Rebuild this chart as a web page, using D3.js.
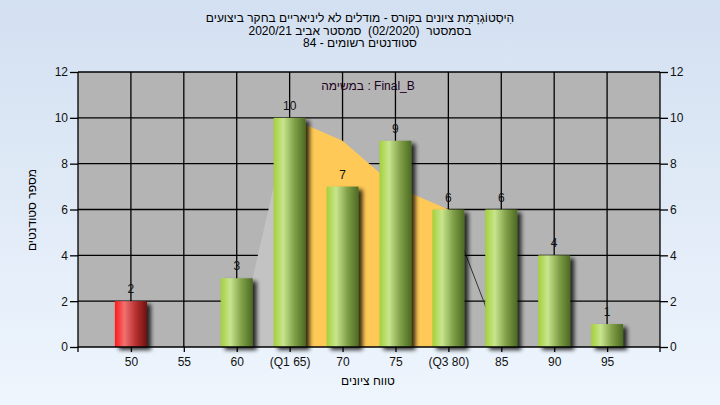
<!DOCTYPE html>
<html><head><meta charset="utf-8">
<script src="https://cdn.jsdelivr.net/npm/d3@7"></script>
<style>
html,body{margin:0;padding:0;}
svg{display:block;font-family:"Liberation Sans",Arial,sans-serif;}
text{white-space:pre;}
</style></head>
<body>
<svg id="c" width="720" height="405"></svg>
<script>
const categories = ["50","55","60","(Q1 65)","70","75","(Q3 80)","85","90","95"];
const counts = [2,0,3,10,7,9,6,6,4,1];
const failing = ["50"];
const yTicks = [0,2,4,6,8,10,12];
const greyAreaCats = ["60","(Q1 65)"];
const greyAreaVals = [0,10];
const iqrCats = ["(Q1 65)","70","75","(Q3 80)"];
const iqrVals = [10,9,7,6];
const tailCats = ["(Q3 80)","85"];
const tailVals = [6,0];
const titleLines = ["הִיסְטוֹגְרָמַת ציונים בקורס - מודלים לא ליניאריים בחקר ביצועים","בסמסטר  (02/2020)  סמסטר אביב 2020/21","סטודנטים רשומים - 84"];
const legendText = "Final_B : במשימה";
const xTitle = "טווח ציונים";
const yTitle = "מספר סטודנטים";

const svg = d3.select("#c");
const W=720,H=405;
const L=78,R=660,T=72,B=347;
const defs = svg.append("defs");
const bg = defs.append("linearGradient").attr("id","bg").attr("x1",0).attr("y1",0).attr("x2",0).attr("y2",1);
bg.append("stop").attr("offset","0%").attr("stop-color","#d3e0f1");
bg.append("stop").attr("offset","100%").attr("stop-color","#eef5fd");
function barGrad(id, c0, c1, c2, c3){
  const g = defs.append("linearGradient").attr("id",id).attr("x1",0).attr("y1",0).attr("x2",1).attr("y2",0);
  g.append("stop").attr("offset","0%").attr("stop-color",c0);
  g.append("stop").attr("offset","30%").attr("stop-color",c1);
  g.append("stop").attr("offset","65%").attr("stop-color",c2);
  g.append("stop").attr("offset","100%").attr("stop-color",c3);
}
barGrad("gG","#a3d03a","#c8e58e","#80a048","#4c6a22");
barGrad("gR","#ff1a1a","#f07070","#b83030","#701010");
const f = defs.append("filter").attr("id","sh").attr("x","-20%").attr("y","-20%").attr("width","160%").attr("height","160%");
f.append("feGaussianBlur").attr("in","SourceAlpha").attr("stdDeviation",2);
f.append("feOffset").attr("dx",4).attr("dy",3).attr("result","b");
f.append("feComponentTransfer").append("feFuncA").attr("type","linear").attr("slope",0.8);
const m = f.append("feMerge"); m.append("feMergeNode"); m.append("feMergeNode").attr("in","SourceGraphic");

svg.append("rect").attr("width",W).attr("height",H).attr("fill","url(#bg)");

const x = d3.scalePoint().domain(categories).range([L,R]).padding(1);
const y = d3.scaleLinear().domain([0,12]).range([B,T]);

svg.append("rect").attr("x",L).attr("y",T).attr("width",R-L).attr("height",B-T).attr("fill","#b4b4b4");

// grid
const grid = svg.append("g").attr("stroke","#000").attr("stroke-width",1.3);
yTicks.filter(v=>v>0).forEach(v=>grid.append("line").attr("x1",L).attr("x2",R).attr("y1",y(v)).attr("y2",y(v)));
categories.forEach(c=>grid.append("line").attr("x1",x(c)).attr("x2",x(c)).attr("y1",T).attr("y2",B));

// areas
const gArea = d3.area().x(d=>x(d[0])).y0(y(0)).y1(d=>y(d[1]));
svg.append("path").datum(d3.zip(greyAreaCats,greyAreaVals)).attr("d",gArea).attr("fill","#c3c3c3");
svg.append("path").datum(d3.zip(iqrCats,iqrVals)).attr("d",gArea).attr("fill","#ffc957");
svg.append("path").datum(d3.zip(tailCats,tailVals)).attr("d",d3.line().x(d=>x(d[0])).y(d=>y(d[1]))).attr("fill","none").attr("stroke","#333").attr("stroke-width",1);

// bars
const bw=32;
const bars = svg.append("g");
categories.forEach((c,i)=>{
  if(counts[i]<=0) return;
  bars.append("rect").attr("x",x(c)-bw/2).attr("y",y(counts[i])).attr("width",bw).attr("height",y(0)-y(counts[i]))
    .attr("fill", failing.includes(c)?"url(#gR)":"url(#gG)").attr("filter","url(#sh)");
});
// value labels
categories.forEach((c,i)=>{
  if(counts[i]<=0) return;
  svg.append("text").attr("x",x(c)).attr("y",y(counts[i])-8).attr("text-anchor","middle").attr("font-size",12).attr("fill","#111").text(counts[i]);
});

// axes
const ax = svg.append("g").attr("stroke","#000").attr("stroke-width",1.3);
ax.append("line").attr("x1",L).attr("x2",L).attr("y1",T).attr("y2",B+5);
ax.append("line").attr("x1",R).attr("x2",R).attr("y1",T).attr("y2",B+5);
ax.append("line").attr("x1",L).attr("x2",R).attr("y1",B).attr("y2",B);
const yl = d3.axisLeft(y).tickValues(yTicks).tickSize(8).tickPadding(2);
const yr = d3.axisRight(y).tickValues(yTicks).tickSize(8).tickPadding(2);
const xb = d3.axisBottom(x).tickSize(5).tickPadding(5);
function style(g){g.select(".domain").remove();g.selectAll("line").attr("stroke","#000").attr("stroke-width",1.3);g.selectAll("text").attr("font-size",12).attr("fill","#111").attr("font-family","Liberation Sans, Arial, sans-serif");}
svg.append("g").attr("transform",`translate(${L},0)`).call(yl).call(style);
svg.append("g").attr("transform",`translate(${R},0)`).call(yr).call(style);
svg.append("g").attr("transform",`translate(0,${B})`).call(xb).call(style);

// titles
titleLines.forEach((t,i)=>{
  svg.append("text").attr("x",360).attr("y",22+i*12.5).attr("text-anchor","middle").attr("direction","rtl").attr("font-size",12).attr("fill","#000").text(t);
});
svg.append("text").attr("x",368).attr("y",90).attr("text-anchor","middle").attr("direction","rtl").attr("font-size",12).attr("fill","#200020").text(legendText);
svg.append("text").attr("x",368).attr("y",385).attr("text-anchor","middle").attr("direction","rtl").attr("font-size",12).attr("fill","#000").text(xTitle);
svg.append("text").attr("transform","translate(36,210) rotate(-90)").attr("text-anchor","middle").attr("direction","rtl").attr("font-size",12).attr("fill","#000").text(yTitle);
</script>
</body></html>
